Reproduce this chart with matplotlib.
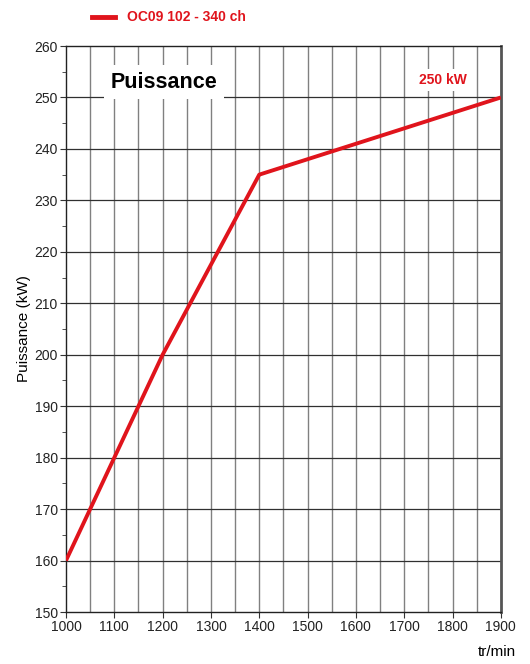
import matplotlib
matplotlib.use("Agg")
from matplotlib import pyplot as plt
from matplotlib.ticker import MultipleLocator

# Data;
rpm = [1000, 1100, 1200, 1300, 1400, 1500, 1600, 1700, 1800, 1900]
power_kw = [160, 180, 200, 217.5, 235, 238, 241, 244, 247, 250]
x_ticks = [1000, 1100, 1200, 1300, 1400, 1500, 1600, 1700, 1800, 1900]
y_ticks = [150, 160, 170, 180, 190, 200, 210, 220, 230, 240, 250, 260]

red = "#e0141c"
plt.rcParams['font.family'] = ['Liberation Sans', 'DejaVu Sans']

fig = plt.figure(figsize=(5.3, 6.64), dpi=100)
ax = fig.add_axes([0.1245, 0.0783, 0.8205, 0.8524])

ax.set_xlim(1000, 1900)
ax.set_ylim(150, 260)
ax.set_xticks(x_ticks)
ax.set_yticks(y_ticks)
ax.xaxis.set_minor_locator(MultipleLocator(50))
ax.yaxis.set_minor_locator(MultipleLocator(5))
ax.tick_params(axis='both', which='major', labelsize=10, length=4, color='#333333',
               labelcolor='#222222', pad=2)
ax.tick_params(axis='x', which='minor', length=0)
ax.tick_params(axis='y', which='minor', length=3, color='#333333')

# Grid: vertical every 50, horizontal every 10;
for xv in range(1050, 1900, 50):
    ax.axvline(xv, color='#808080', lw=1.0, zorder=1)
for yv in y_ticks[1:-1]:
    ax.axhline(yv, color='#303030', lw=0.9, zorder=1)

for side in ['left', 'bottom', 'top']:
    ax.spines[side].set_color('#222222')
    ax.spines[side].set_linewidth(1.0)
ax.spines['right'].set_color('#555555')
ax.spines['right'].set_linewidth(2.0)

ax.plot(rpm, power_kw, color=red, lw=2.8, zorder=3, solid_capstyle='butt')

ax.text(1203, 253, "Puissance", fontsize=15.5, fontweight='bold', ha='center', va='center',
        bbox=dict(facecolor='white', edgecolor='none', pad=5), zorder=4)
ax.text(1830, 253.4, "250 kW", fontsize=10, fontweight='bold', color=red, ha='right',
        va='center', bbox=dict(facecolor='white', edgecolor='none', pad=3), zorder=4)

ax.set_ylabel("Puissance (kW)", fontsize=11, labelpad=2)

fig.text(0.902, 0.018, "tr/min", fontsize=11, ha='left', va='center')

# Legend at the top;
fig.add_artist(plt.Line2D([0.174, 0.217], [0.975, 0.975], color=red, lw=3.5,
                          transform=fig.transFigure))
fig.text(0.24, 0.975, "OC09 102 - 340 ch", fontsize=10, fontweight='bold', color=red,
         ha='left', va='center')

fig.savefig("out.png", dpi=100)
